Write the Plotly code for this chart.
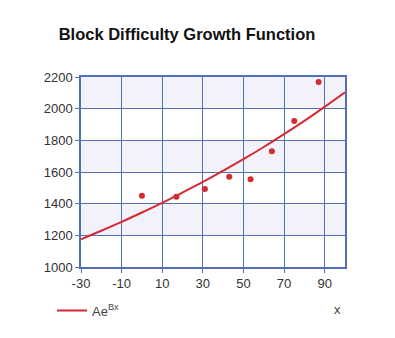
import plotly.graph_objects as go

# observed data points
obs_x = [0, 17, 31, 43, 53.5, 64, 75, 87]
obs_y = [1450, 1444, 1493, 1570, 1554, 1731, 1922, 2168]

# fitted curve A*e^(Bx)
fit_x = [-30, -20, -10, 0, 10, 20, 30, 40, 50, 60, 70, 80, 90, 100]
fit_y = [1175, 1229, 1285, 1344, 1405, 1470, 1537, 1608, 1681, 1758, 1839, 1923, 2011, 2103]

x_ticks = [-30, -10, 10, 30, 50, 70, 90]
x_labels = ["-30", "-10", "10", "30", "50", "70", "90"]
y_ticks = [1000, 1200, 1400, 1600, 1800, 2000, 2200]

RED = "#d42a32"
BLUE = "#5270b6"

fig = go.Figure()
fig.add_trace(go.Scatter(x=fit_x, y=fit_y, mode="lines", line=dict(color=RED, width=2, shape="spline"),
                         name="Ae<sup>Bx</sup>", showlegend=True))
fig.add_trace(go.Scatter(x=obs_x, y=obs_y, mode="markers", marker=dict(color=RED, size=6),
                         showlegend=False))

shapes = []
for i in range(len(y_ticks) - 1):
    if (len(y_ticks) - 2 - i) % 2 == 0:
        shapes.append(dict(type="rect", xref="x", yref="y", x0=-30, x1=100,
                           y0=y_ticks[i], y1=y_ticks[i + 1], fillcolor="#f3f1f9",
                           line=dict(width=0), layer="below"))

font = "Liberation Sans, Arial, sans-serif"
fig.update_layout(
    width=395, height=338,
    margin=dict(l=81, r=50, t=77, b=71),
    paper_bgcolor="white", plot_bgcolor="white",
    shapes=shapes,
    title=dict(text="<b>Block Difficulty Growth Function</b>", x=187 / 395, xanchor="center",
               y=1 - 34 / 338, yanchor="middle", font=dict(family=font, size=16.5, color="#111")),
    xaxis=dict(range=[-30, 100], tickvals=x_ticks, ticktext=x_labels, showgrid=True, gridcolor=BLUE, gridwidth=1.2,
               showline=True, linecolor=BLUE, linewidth=1.5, mirror=True, zeroline=False,
               ticks="outside", ticklen=4, tickcolor=BLUE,
               tickfont=dict(family=font, size=13, color="#333"), layer="above traces"),
    yaxis=dict(range=[1000, 2200], tickvals=y_ticks, showgrid=True, gridcolor=BLUE, gridwidth=1.2,
               showline=True, linecolor=BLUE, linewidth=1.5, mirror=True, zeroline=False,
               ticks="outside", ticklen=4, tickcolor=BLUE,
               tickfont=dict(family=font, size=13, color="#333"), layer="above traces"),
    legend=dict(x=(52 - 81) / 264, xanchor="left", y=-0.15, yanchor="top", bgcolor="rgba(0,0,0,0)",
                font=dict(family=font, size=13, color="#444")),
    annotations=[dict(text="x", xref="paper", yref="paper", x=(337 - 81) / 264, y=-(309 - 267) / 190,
                      xanchor="center", yanchor="middle", showarrow=False,
                      font=dict(family=font, size=13, color="#444"))],
)

fig.write_html("out.html")
